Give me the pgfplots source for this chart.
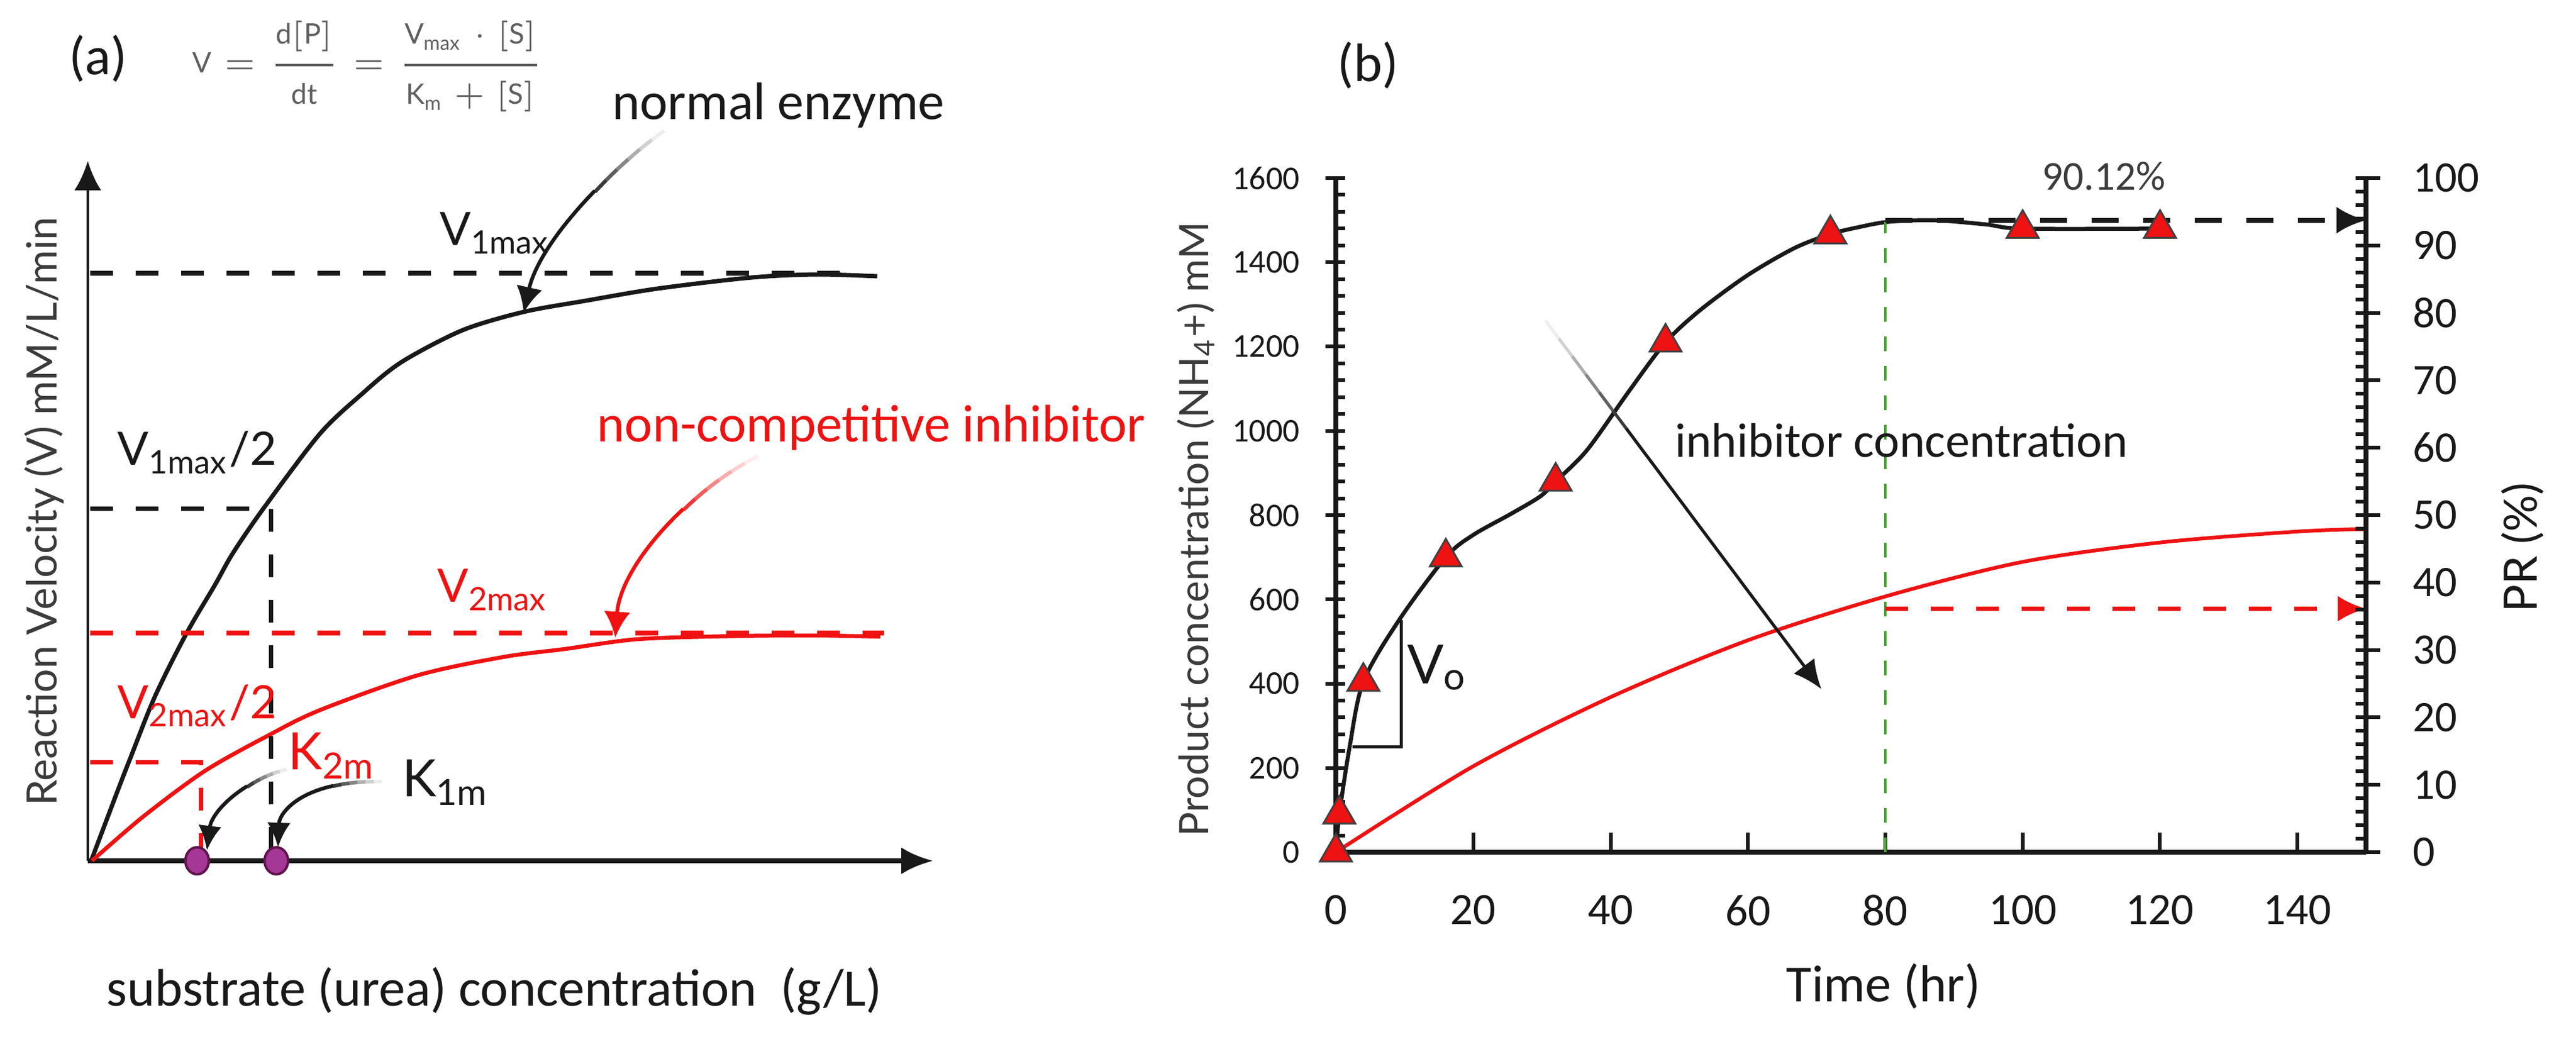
\documentclass[border=0pt]{standalone}
\usepackage{pgfplots}
\pgfplotsset{compat=1.18}
\usepackage{fontspec}
\setmainfont{Lato}
\newfontfamily\carl{Carlito}
\usetikzlibrary{arrows.meta}

\definecolor{ink}{RGB}{25,25,25}
\definecolor{cred}{RGB}{238,18,18}
\definecolor{plum}{RGB}{165,55,150}
\definecolor{plumdark}{RGB}{95,20,75}
\definecolor{dgreen}{RGB}{70,165,45}
\definecolor{eqgray}{RGB}{95,95,95}

\newcommand\fs[1]{\fontsize{#1pt}{#1pt}\selectfont}

% pointer arrow whose tail fades out: #1 colour, #2 width, #3 fade length (pt), #4 tip, #5 path
\newcommand\fadearrow[5]{%
  \foreach \k/\op in {0/8,1/20,2/35,3/52,4/70,5/86}{%
    \pgfmathsetmacro\a{\k*#3/6}\pgfmathsetmacro\b{#3/6+0.05}%
    \draw[#1!\op!white, line width=#2, dash pattern=on 0pt off \a pt on \b pt off 2000pt] #5;}%
  \draw[#1, line width=#2, dash pattern=on 0pt off #3pt on 2000pt, -{#4}] #5;%
}

\begin{document}
\begin{tikzpicture}
\useasboundingbox (0,0) rectangle (419.6pt,168.8pt);

% ---------------- (a) Michaelis-Menten sketch ----------------
\begin{axis}[
  at={(14.3pt,28.6pt)}, anchor=south west, scale only axis,
  width=137.7pt, height=114pt,
  xmin=0, xmax=100, ymin=0, ymax=100,
  axis x line=bottom, axis y line=left,
  x axis line style={line width=0.8pt, ink, -{Latex[length=5.2pt,width=4.4pt]}},
  y axis line style={line width=0.45pt, ink, -{Latex[length=4.8pt,width=4.4pt]}},
  xtick=\empty, ytick=\empty,
  clip=false,
  xlabel={substrate (urea) concentration\ \ (g/L)},
  ylabel={Reaction Velocity (V) mM/L/min},
  xlabel style={at={(axis description cs:0.481,-0.186)}, anchor=center, inner sep=0pt, font=\carl\fs{8.6}, ink},
  ylabel style={at={(axis description cs:-0.0516,0.499)}, anchor=center, inner sep=0pt, font=\fs{6.8}, ink!85},
]
% normal enzyme
\addplot[ink, line width=0.7pt, smooth] coordinates {
  (0.4,0) (3.20,8.95) (5.08,14.82) (7.99,23.60) (11.62,32.37) (15.03,39.39)
  (17.21,44.04) (20.84,50.44) (27.38,60.9) (32.24,66.5) (37.04,71.2)
  (44.30,75.79) (51.56,78.42) (58.82,80.00) (67.39,81.75) (78.50,83.33)
  (86.20,83.77) (93.39,83.51)};
% non-competitive inhibitor
\addplot[cred, line width=0.65pt, smooth] coordinates {
  (0.5,0) (6.54,6.3) (13.80,12.8) (21.06,17.72) (27.38,21.49) (39.00,26.49)
  (49.17,29.12) (56.43,30.26) (65.14,31.67) (76.76,32.11) (86.20,32.19) (93.75,32.02)};
% guide lines
\addplot[ink, line width=0.8pt, dash pattern=on 3.7pt off 3.7pt] coordinates {(0.3,83.95) (89.6,83.95)};
\addplot[ink, line width=0.7pt, dash pattern=on 3.7pt off 3.7pt] coordinates {(0.3,50.35) (21.71,50.35) (21.71,0)};
\addplot[cred, line width=0.8pt, dash pattern=on 3.7pt off 3.7pt] coordinates {(0.3,32.54) (94.2,32.54)};
\addplot[cred, line width=0.7pt, dash pattern=on 3.7pt off 3.7pt] coordinates {(0.3,14.04) (13.43,14.04) (13.43,0)};
% Km points
\addplot[only marks, mark=*, mark size=2.2pt, mark options={fill=plum, draw=plumdark, line width=0.4pt, xscale=0.87}] coordinates {(12.93,0) (22.3,0)};

% anchor points of the pointer arrows
\coordinate (ne0) at (axis cs:68.2,104.3);  \coordinate (ne1) at (axis cs:62.24,99.3);
\coordinate (ne2) at (axis cs:53.52,88.77); \coordinate (ne3) at (axis cs:51.56,78.3);
\coordinate (nc0) at (axis cs:79.3,57.8);   \coordinate (nc1) at (axis cs:70.95,52.8);
\coordinate (nc2) at (axis cs:63.0,42.1);   \coordinate (nc3) at (axis cs:62.4,31.9);
\coordinate (k20) at (axis cs:23.53,13.07); \coordinate (k21) at (axis cs:18.6,11.6);
\coordinate (k22) at (axis cs:14.67,7.19);  \coordinate (k23) at (axis cs:14.09,1.49);
\coordinate (k10) at (axis cs:34.8,11.3);   \coordinate (k11) at (axis cs:25.9,11.58);
\coordinate (k12) at (axis cs:22.66,7.19);  \coordinate (k13) at (axis cs:22.5,1.93);

% labels
\node[anchor=base west, inner sep=0pt, font=\fs{7.5}, ink] at (axis cs:41.5,87.9) {V\textsubscript{1max}};
\node[anchor=base west, inner sep=0pt, font=\fs{7.5}, ink] at (axis cs:3.41,56.5) {V\textsubscript{1max}/2};
\node[anchor=base west, inner sep=0pt, font=\fs{7.5}, cred] at (axis cs:41.2,37.0) {V\textsubscript{2max}};
\node[anchor=base west, inner sep=0pt, font=\fs{7.5}, cred] at (axis cs:3.41,20.35) {V\textsubscript{2max}/2};
\node[anchor=base west, inner sep=0pt, font=\fs{8.4}, cred] at (axis cs:23.6,13.07) {K\textsubscript{2m}};
\node[anchor=base west, inner sep=0pt, font=\fs{8.4}, ink] at (axis cs:37.04,9.21) {K\textsubscript{1m}};
\node[anchor=base west, inner sep=0pt, font=\carl\fs{8.6}, ink] at (axis cs:61.9,105.9) {normal enzyme};
\node[anchor=base west, inner sep=0pt, font=\carl\fs{8.6}, cred] at (axis cs:60.1,59.9) {non-competitive inhibitor};
\node[anchor=center, inner sep=0pt, font=\carl\fs{8.8}, ink] at (axis cs:1.23,114.6) {(a)};
\node[anchor=center, inner sep=0pt, font=\fs{4.6}, eqgray] at (axis cs:33.2,113.5)
  {$\displaystyle \mathrm{V}=\frac{\mathrm{d[P]}}{\mathrm{dt}}=\frac{\mathrm{V_{max}}\cdot[\mathrm{S}]}{\mathrm{K_m}+[\mathrm{S}]}$};
\end{axis}

\fadearrow{ink}{0.6pt}{15}{Latex[length=4.2pt,width=4.3pt]}{(ne0) .. controls (ne1) and (ne2) .. (ne3)}
\fadearrow{cred}{0.6pt}{15}{Latex[length=4.2pt,width=4.3pt]}{(nc0) .. controls (nc1) and (nc2) .. (nc3)}
\fadearrow{ink}{0.6pt}{7}{Latex[length=4pt,width=3.8pt]}{(k20) .. controls (k21) and (k22) .. (k23)}
\fadearrow{ink}{0.6pt}{8}{Latex[length=4pt,width=3.8pt]}{(k10) .. controls (k11) and (k12) .. (k13)}

% ---------------- (b) product vs time ----------------
\begin{axis}[
  at={(217.6pt,30pt)}, anchor=south west, scale only axis,
  width=167.8pt, height=109.8pt,
  xmin=0, xmax=150, ymin=0, ymax=1600,
  axis x line*=bottom, axis y line*=left,
  axis line style={line width=0.8pt, ink, -},
  xtick={0,20,...,140}, ytick={0,200,...,1600},
  minor y tick num=4,
  tick align=inside,
  major tick length=3.2pt, minor tick length=1.5pt,
  tick style={line width=0.6pt, ink},
  every major y tick/.append style={xshift=-1.7pt},
  /pgf/number format/assume math mode=true,
  /pgf/number format/1000 sep={},
  xticklabel style={anchor=north, inner sep=0pt, yshift=-6.8pt, font=\carl\fs{7.3}, ink},
  yticklabel style={anchor=east, inner sep=0pt, xshift=-5.7pt, font=\carl\fs{5.4}, ink},
  clip=false,
  xlabel={Time (hr)},
  ylabel={Product concentration (NH\textsubscript{4}+) mM},
  xlabel style={at={(axis description cs:0.5316,-0.1985)}, anchor=center, inner sep=0pt, font=\carl\fs{8.5}, ink},
  ylabel style={at={(axis description cs:-0.1359,0.479)}, anchor=center, inner sep=0pt, font=\fs{6.6}, ink!85},
]
% with inhibitor
\addplot[cred, line width=0.6pt, smooth] coordinates {
  (0,0) (20,204) (40,368) (60,503) (80,607) (100,689) (120,735) (140,761) (150,767)};
% measured product
\addplot[ink, line width=0.65pt, smooth] coordinates {
  (0,0) (0.5,90) (2,250) (4,405) (9.2,551) (16,700) (20,753) (25.6,804) (29.8,845)
  (32,880) (36.6,955) (42.8,1097) (48,1210) (53,1286) (60,1370)
  (66.8,1434) (72,1467) (76,1483) (80.4,1496) (87,1500) (94.6,1490) (100,1480) (120,1480)};
% initial rate triangle
\addplot[ink, line width=0.45pt] coordinates {(2.4,250) (9.5,250) (9.5,551)};
% guides
\addplot[dgreen, line width=0.45pt, dash pattern=on 2.4pt off 2.4pt] coordinates {(80,0) (80,1496)};
\addplot[ink, line width=0.8pt, dash pattern=on 4.4pt off 4pt, -{Latex[length=4.8pt,width=4.4pt]}] coordinates {(80,1500) (150,1500)};
\addplot[cred, line width=0.65pt, dash pattern=on 3.7pt off 3.7pt, -{Latex[length=4.6pt,width=4.2pt]}] coordinates {(80,578) (150,578)};
% data points
\addplot[only marks, mark=triangle*, mark size=3pt, mark options={fill=cred, draw=black!75, line width=0.3pt}] coordinates {
  (0,0) (0.5,90) (4,405) (16,700) (32,880) (48,1210) (72,1467) (100,1480) (120,1480)};

\coordinate (ic0) at (axis cs:30.5,1262); \coordinate (ic1) at (axis cs:70.7,387);

\node[anchor=base west, inner sep=0pt, font=\carl\fs{7.9}, ink] at (axis cs:49.2,938) {inhibitor concentration};
\node[anchor=center, inner sep=0pt, font=\carl\fs{6.7}, ink!85] at (axis cs:111.8,1604) {90.12\%};
\node[anchor=base west, inner sep=0pt, font=\fs{8.8}, ink] at (axis cs:10.2,400.7) {V\textsubscript{o}};
\node[anchor=center, inner sep=0pt, font=\carl\fs{8.8}, ink] at (axis cs:4.7,1868) {(b)};
\end{axis}

\fadearrow{ink}{0.5pt}{22}{Latex[length=4.7pt,width=4.2pt]}{(ic0) -- (ic1)}

\begin{axis}[
  at={(217.6pt,30pt)}, anchor=south west, scale only axis,
  width=167.8pt, height=109.8pt,
  xmin=0, xmax=150, ymin=0, ymax=100,
  axis x line=none, axis y line*=right,
  axis line style={line width=0.8pt, ink, -},
  ytick={0,10,...,100}, minor y tick num=4,
  tick align=inside, major tick length=4pt, minor tick length=1.7pt,
  tick style={line width=0.6pt, ink},
  every major y tick/.append style={xshift=2.3pt},
  /pgf/number format/assume math mode=true,
  yticklabel style={anchor=west, inner sep=0pt, xshift=7.4pt, font=\carl\fs{7.1}, ink},
  clip=false,
  ylabel={PR (\%)},
  ylabel style={at={(axis description cs:1.152,0.4517)}, anchor=center, inner sep=0pt, font=\fs{7.5}, ink},
]
\addplot[draw=none] coordinates {(0,0)};
\end{axis}
\end{tikzpicture}
\end{document}
